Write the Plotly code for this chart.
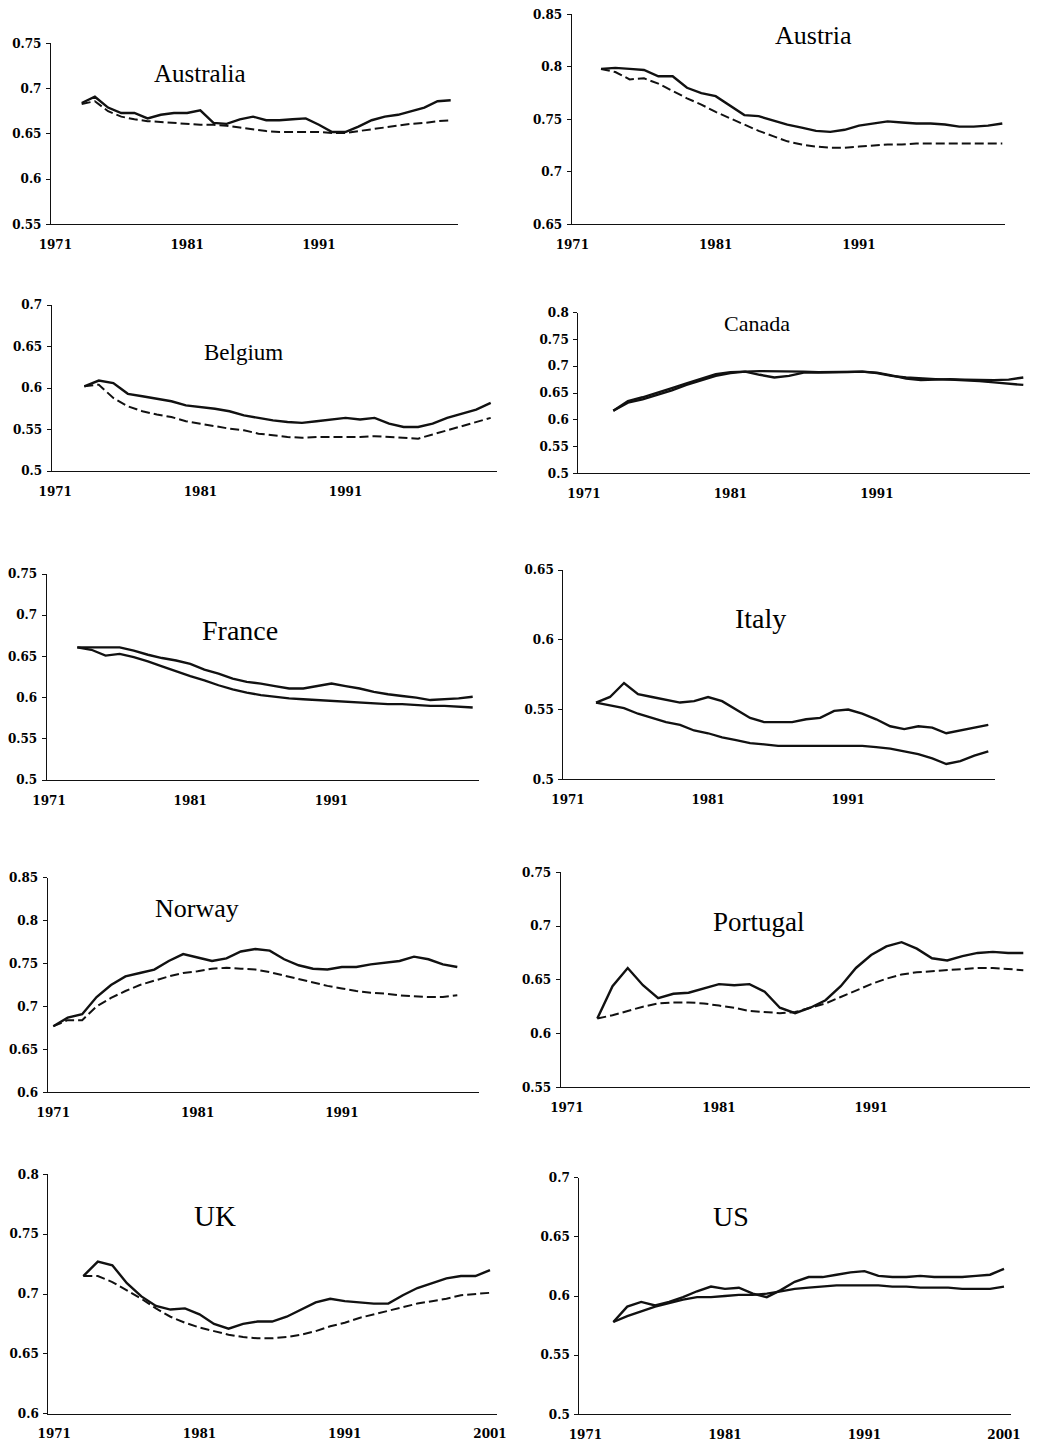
import plotly.graph_objects as go

W, H = 1039, 1448

# Years on the horizontal axis
years_73_01 = list(range(1973, 2002))
years_71_99 = list(range(1971, 2000))

# Series values: solid line (actual) and dashed line (trend) for each country
australia_solid = [0.684, 0.691, 0.679, 0.673, 0.673, 0.667, 0.671, 0.673, 0.673, 0.676, 0.662, 0.661, 0.666, 0.669, 0.665,
                   0.665, 0.666, 0.667, 0.660, 0.652, 0.652, 0.658, 0.665, 0.669, 0.671, 0.675, 0.679, 0.686, 0.687]
australia_dashed = [0.683, 0.686, 0.675, 0.669, 0.666, 0.664, 0.663, 0.662, 0.661, 0.660, 0.660, 0.659, 0.657, 0.655, 0.653,
                    0.652, 0.652, 0.652, 0.652, 0.651, 0.651, 0.653, 0.655, 0.657, 0.659, 0.661, 0.662, 0.664, 0.665]

austria_solid = [0.798, 0.799, 0.798, 0.797, 0.791, 0.791, 0.780, 0.775, 0.772, 0.763, 0.754, 0.753, 0.749, 0.745, 0.742,
                 0.739, 0.738, 0.740, 0.744, 0.746, 0.748, 0.747, 0.746, 0.746, 0.745, 0.743, 0.743, 0.744, 0.746]
austria_dashed = [0.798, 0.795, 0.788, 0.789, 0.784, 0.777, 0.770, 0.764, 0.757, 0.751, 0.745, 0.739, 0.734, 0.729, 0.726,
                  0.724, 0.723, 0.723, 0.724, 0.725, 0.726, 0.726, 0.727, 0.727, 0.727, 0.727, 0.727, 0.727, 0.727]

belgium_solid = [0.602, 0.609, 0.606, 0.593, 0.590, 0.587, 0.584, 0.579, 0.577, 0.575, 0.572, 0.567, 0.564, 0.561, 0.559,
                 0.558, 0.560, 0.562, 0.564, 0.562, 0.564, 0.557, 0.553, 0.553, 0.557, 0.564, 0.569, 0.574, 0.582]
belgium_dashed = [0.602, 0.604, 0.588, 0.578, 0.572, 0.568, 0.565, 0.560, 0.557, 0.554, 0.551, 0.549, 0.545, 0.543, 0.541,
                  0.540, 0.541, 0.541, 0.541, 0.541, 0.542, 0.541, 0.540, 0.539, 0.544, 0.549, 0.554, 0.559, 0.564]

canada_solid = [0.617, 0.635, 0.642, 0.650, 0.659, 0.668, 0.677, 0.685, 0.689, 0.690, 0.684, 0.679, 0.682, 0.688, 0.688,
                0.688, 0.689, 0.690, 0.688, 0.683, 0.677, 0.674, 0.675, 0.676, 0.675, 0.674, 0.674, 0.675, 0.679]
canada_dashed = [0.617, 0.632, 0.638, 0.646, 0.655, 0.665, 0.674, 0.682, 0.687, 0.690, 0.691, 0.691, 0.691, 0.690, 0.689,
                 0.689, 0.690, 0.690, 0.687, 0.682, 0.679, 0.677, 0.676, 0.675, 0.674, 0.672, 0.670, 0.668, 0.665]

france_solid = [0.661, 0.661, 0.661, 0.661, 0.657, 0.652, 0.648, 0.645, 0.641, 0.634, 0.629, 0.623, 0.619, 0.617, 0.614,
                0.611, 0.611, 0.614, 0.617, 0.614, 0.611, 0.607, 0.604, 0.602, 0.600, 0.597, 0.598, 0.599, 0.601]
france_dashed = [0.661, 0.658, 0.651, 0.653, 0.649, 0.644, 0.638, 0.632, 0.626, 0.621, 0.615, 0.610, 0.606, 0.603, 0.601,
                 0.599, 0.598, 0.597, 0.596, 0.595, 0.594, 0.593, 0.592, 0.592, 0.591, 0.590, 0.590, 0.589, 0.588]

italy_solid = [0.555, 0.559, 0.569, 0.561, 0.559, 0.557, 0.555, 0.556, 0.559, 0.556, 0.550, 0.544, 0.541, 0.541, 0.541,
               0.543, 0.544, 0.549, 0.550, 0.547, 0.543, 0.538, 0.536, 0.538, 0.537, 0.533, 0.535, 0.537, 0.539]
italy_dashed = [0.555, 0.553, 0.551, 0.547, 0.544, 0.541, 0.539, 0.535, 0.533, 0.530, 0.528, 0.526, 0.525, 0.524, 0.524,
                0.524, 0.524, 0.524, 0.524, 0.524, 0.523, 0.522, 0.520, 0.518, 0.515, 0.511, 0.513, 0.517, 0.520]

norway_solid = [0.677, 0.687, 0.691, 0.711, 0.725, 0.735, 0.739, 0.743, 0.753, 0.761, 0.757, 0.753, 0.756, 0.764, 0.767,
                0.765, 0.755, 0.748, 0.744, 0.743, 0.746, 0.746, 0.749, 0.751, 0.753, 0.758, 0.755, 0.749, 0.746]
norway_dashed = [0.677, 0.684, 0.684, 0.700, 0.710, 0.718, 0.725, 0.730, 0.735, 0.739, 0.741, 0.744, 0.745, 0.744, 0.743,
                 0.740, 0.736, 0.732, 0.728, 0.724, 0.721, 0.718, 0.716, 0.715, 0.713, 0.712, 0.711, 0.711, 0.713]

portugal_solid = [0.614, 0.644, 0.661, 0.645, 0.633, 0.637, 0.638, 0.642, 0.646, 0.645, 0.646, 0.639, 0.624, 0.619, 0.624,
                  0.631, 0.644, 0.661, 0.673, 0.681, 0.685, 0.679, 0.670, 0.668, 0.672, 0.675, 0.676, 0.675, 0.675]
portugal_dashed = [0.614, 0.617, 0.621, 0.625, 0.628, 0.629, 0.629, 0.628, 0.626, 0.624, 0.621, 0.620, 0.619, 0.620, 0.624,
                   0.628, 0.634, 0.640, 0.646, 0.651, 0.655, 0.657, 0.658, 0.659, 0.660, 0.661, 0.661, 0.660, 0.659]

uk_solid = [0.715, 0.727, 0.724, 0.709, 0.698, 0.690, 0.687, 0.688, 0.683, 0.675, 0.671, 0.675, 0.677, 0.677, 0.681,
            0.687, 0.693, 0.696, 0.694, 0.693, 0.692, 0.692, 0.699, 0.705, 0.709, 0.713, 0.715, 0.715, 0.720]
uk_dashed = [0.715, 0.715, 0.710, 0.703, 0.696, 0.688, 0.681, 0.676, 0.672, 0.669, 0.666, 0.664, 0.663, 0.663, 0.664,
             0.666, 0.669, 0.673, 0.676, 0.680, 0.683, 0.686, 0.689, 0.692, 0.694, 0.696, 0.699, 0.700, 0.701]

us_solid = [0.578, 0.591, 0.595, 0.592, 0.595, 0.599, 0.604, 0.608, 0.606, 0.607, 0.602, 0.599, 0.605, 0.612, 0.616,
            0.616, 0.618, 0.620, 0.621, 0.617, 0.616, 0.616, 0.617, 0.616, 0.616, 0.616, 0.617, 0.618, 0.623]
us_dashed = [0.578, 0.583, 0.587, 0.591, 0.594, 0.597, 0.599, 0.599, 0.600, 0.601, 0.601, 0.602, 0.604, 0.606, 0.607,
             0.608, 0.609, 0.609, 0.609, 0.609, 0.608, 0.608, 0.607, 0.607, 0.607, 0.606, 0.606, 0.606, 0.608]

# Tick labels
x_ticks_short = [1971, 1981, 1991]
x_ticks_long = [1971, 1981, 1991, 2001]

# Panel layout: pixel box of each small chart, y range and styling of the second line
# (axis_left, axis_right, px of first year, px of last year, axis_top, axis_bottom)
panels = [
    dict(name="Australia", years=years_73_01, a=australia_solid, b=australia_dashed, ylo=0.55, yhi=0.75,
         box=(51, 458, 81.7, 450.7, 43.3, 224.3), title=(200, 73, 25), xt=x_ticks_short, dash=True),
    dict(name="Austria", years=years_73_01, a=austria_solid, b=austria_dashed, ylo=0.65, yhi=0.85,
         box=(571.7, 1005, 601, 1002.3, 14.3, 224.3), title=(813, 36, 26), xt=x_ticks_short, dash=True),
    dict(name="Belgium", years=years_73_01, a=belgium_solid, b=belgium_dashed, ylo=0.5, yhi=0.7,
         box=(51.7, 497.3, 84.3, 490.7, 305, 471), title=(243, 352, 23), xt=x_ticks_short, dash=True),
    dict(name="Canada", years=years_73_01, a=canada_solid, b=canada_dashed, ylo=0.5, yhi=0.8,
         box=(578.3, 1030, 613.3, 1023.3, 312.7, 473.3), title=(757, 323, 22), xt=x_ticks_short, dash=False),
    dict(name="France", years=years_73_01, a=france_solid, b=france_dashed, ylo=0.5, yhi=0.75,
         box=(46.7, 479, 77.3, 472.7, 574, 780), title=(240, 630, 28), xt=x_ticks_short, dash=False),
    dict(name="Italy", years=years_73_01, a=italy_solid, b=italy_dashed, ylo=0.5, yhi=0.65,
         box=(563.3, 995, 596, 988.3, 570, 779.3), title=(760, 618, 28), xt=x_ticks_short, dash=False),
    dict(name="Norway", years=years_71_99, a=norway_solid, b=norway_dashed, ylo=0.6, yhi=0.85,
         box=(47.7, 479.3, 53.3, 457.3, 877.7, 1092.3), title=(197, 908, 26), xt=x_ticks_short, dash=True),
    dict(name="Portugal", years=years_73_01, a=portugal_solid, b=portugal_dashed, ylo=0.55, yhi=0.75,
         box=(560.7, 1030, 597.3, 1023.3, 872.3, 1087.3), title=(759, 922, 27), xt=x_ticks_long, dash=True),
    dict(name="UK", years=years_73_01, a=uk_solid, b=uk_dashed, ylo=0.6, yhi=0.8,
         box=(48.3, 496.7, 83.3, 490, 1174.3, 1413.7), title=(215, 1216, 29), xt=x_ticks_long, dash=True),
    dict(name="US", years=years_73_01, a=us_solid, b=us_dashed, ylo=0.5, yhi=0.7,
         box=(579.3, 1010.7, 613.3, 1004, 1177.7, 1414.3), title=(731, 1216, 28), xt=x_ticks_long, dash=False),
]

TICK_FONT = dict(family="DejaVu Serif", size=12, color="#000", weight="bold")
LINE_COLOR = "#111"

fig = go.Figure()
layout_axes = {}
annotations = []

for i, p in enumerate(panels, start=1):
    xs, xe, xf, xl, yt, yb = p["box"]
    y0, y1 = p["years"][0], p["years"][-1]
    ppy = (xl - xf) / (y1 - y0)
    x_lo = y0 - (xf - xs) / ppy
    x_hi = y1 + (xe - xl) / ppy

    xa = "x" if i == 1 else f"x{i}"
    ya = "y" if i == 1 else f"y{i}"

    fig.add_trace(go.Scatter(
        x=p["years"], y=p["b"], mode="lines", xaxis=xa, yaxis=ya, showlegend=False,
        line=dict(color=LINE_COLOR, width=2.0 if p["dash"] else 2.3,
                  dash="9px,4px" if p["dash"] else "solid"),
    ))
    fig.add_trace(go.Scatter(
        x=p["years"], y=p["a"], mode="lines", xaxis=xa, yaxis=ya, showlegend=False,
        line=dict(color=LINE_COLOR, width=2.4),
    ))

    n_steps = round((p["yhi"] - p["ylo"]) / 0.05)
    yvals = [round(p["ylo"] + 0.05 * k, 2) for k in range(n_steps + 1)]

    xkey = "xaxis" if i == 1 else f"xaxis{i}"
    ykey = "yaxis" if i == 1 else f"yaxis{i}"
    layout_axes[xkey] = dict(
        domain=[xs / W, xe / W], anchor=ya, range=[x_lo, x_hi], automargin=False,
        showgrid=False, zeroline=False, showline=True, linecolor=LINE_COLOR, linewidth=1.3,
        tickvals=p["xt"], ticktext=[str(v) for v in p["xt"]], ticks="",
        tickfont=TICK_FONT, ticklabelstandoff=9, fixedrange=True,
    )
    layout_axes[ykey] = dict(
        domain=[1 - yb / H, 1 - yt / H], anchor=xa, range=[p["ylo"], p["yhi"]], automargin=False,
        showgrid=False, zeroline=False, showline=True, linecolor=LINE_COLOR, linewidth=1.3,
        tickvals=yvals, ticktext=[f"{v:g}" for v in yvals], ticks="outside", ticklen=4,
        tickwidth=1, tickcolor=LINE_COLOR, tickfont=TICK_FONT, ticklabelstandoff=2, fixedrange=True,
    )

    tx, ty, tsize = p["title"]
    annotations.append(dict(
        text=p["name"], x=tx / W, y=1 - ty / H, xref="paper", yref="paper",
        xanchor="center", yanchor="middle", showarrow=False,
        font=dict(family="Liberation Serif", size=tsize, color="#000"),
    ))

fig.update_layout(
    width=W, height=H, margin=dict(l=0, r=0, t=0, b=0),
    paper_bgcolor="white", plot_bgcolor="white",
    annotations=annotations, **layout_axes,
)

fig.write_html("out.html")
